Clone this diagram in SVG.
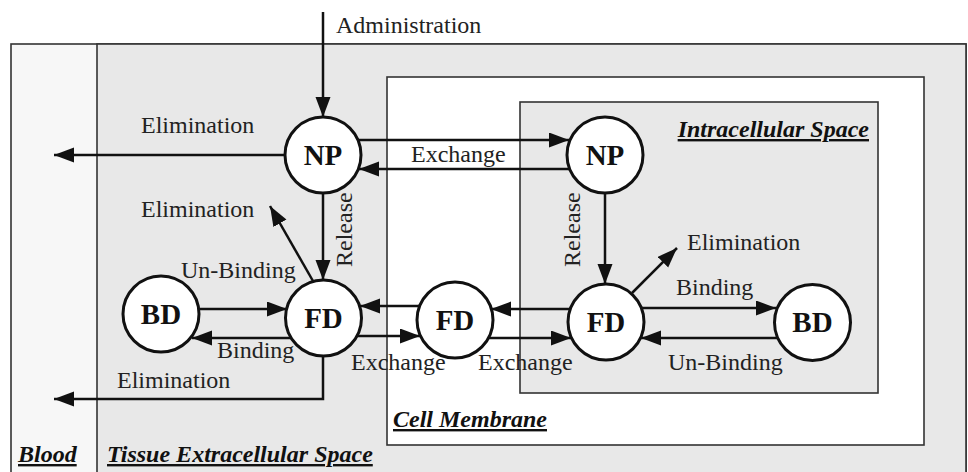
<svg xmlns="http://www.w3.org/2000/svg" width="968" height="472" viewBox="0 0 968 472">
<style>
.box{stroke:#333;stroke-width:1.6}
.node circle{fill:#fff;stroke:#111;stroke-width:3}
.node text{font-family:"Liberation Serif","Times New Roman",serif;font-weight:bold;font-size:29px;text-anchor:middle;fill:#111}
.lbl{font-family:"Liberation Serif","Times New Roman",serif;font-size:24px;fill:#222}
.reg{font-family:"Liberation Serif","Times New Roman",serif;font-size:24px;font-weight:bold;font-style:italic;text-decoration:underline;fill:#111}
#connectors line,#connectors path{stroke:#111;stroke-width:2.5;fill:none;marker-end:url(#arr)}
</style>
<defs>
<marker id="arr" markerUnits="userSpaceOnUse" markerWidth="21" markerHeight="16" refX="20" refY="7.5" orient="auto">
<path d="M0,0 L20,7.5 L0,15 z" fill="#111"/>
</marker>
</defs>
<rect width="968" height="472" fill="#fff"/>
<g id="regions">
<rect class="box" x="11" y="44" width="955" height="440" fill="#f7f7f7"/>
<rect class="box" x="97" y="44" width="869" height="440" fill="#e8e8e8"/>
<rect class="box" x="387" y="77" width="537" height="368" fill="#fff"/>
<rect class="box" x="520" y="102" width="358" height="291" fill="#e8e8e8"/>
<text class="reg" x="869" y="137" text-anchor="end">Intracellular Space</text>
<text class="reg" x="393" y="427">Cell Membrane</text>
<text class="reg" x="18" y="462">Blood</text>
<text class="reg" x="107" y="462">Tissue Extracellular Space</text>
</g>
<g id="connectors">
<line x1="323" y1="12" x2="323" y2="117"/>
<line x1="286" y1="155" x2="54" y2="155"/>
<line x1="358" y1="140" x2="569" y2="140"/>
<line x1="570" y1="169" x2="359" y2="169"/>
<line x1="323" y1="193" x2="323" y2="280"/>
<line x1="313" y1="281" x2="270" y2="206"/>
<line x1="199" y1="309" x2="287" y2="309"/>
<line x1="291" y1="338" x2="192" y2="338"/>
<path d="M323,356 V399 H54"/>
<line x1="420" y1="306" x2="360" y2="306"/>
<line x1="357" y1="336" x2="420" y2="336"/>
<line x1="570" y1="309" x2="491" y2="309"/>
<line x1="489" y1="338" x2="571" y2="338"/>
<line x1="605" y1="193" x2="605" y2="284"/>
<line x1="632" y1="293" x2="677" y2="248"/>
<line x1="642" y1="308" x2="776" y2="308"/>
<line x1="778" y1="338" x2="641" y2="338"/>
</g>
<g id="labels">
<text class="lbl" x="336" y="33">Administration</text>
<text class="lbl" x="141" y="133">Elimination</text>
<text class="lbl" x="411" y="162">Exchange</text>
<text class="lbl" x="141" y="217">Elimination</text>
<text class="lbl" transform="translate(352,267) rotate(-90)">Release</text>
<text class="lbl" transform="translate(580,267) rotate(-90)">Release</text>
<text class="lbl" x="181" y="278">Un-Binding</text>
<text class="lbl" x="217" y="358">Binding</text>
<text class="lbl" x="117" y="388">Elimination</text>
<text class="lbl" x="351" y="370">Exchange</text>
<text class="lbl" x="478" y="370">Exchange</text>
<text class="lbl" x="687" y="250">Elimination</text>
<text class="lbl" x="676" y="295">Binding</text>
<text class="lbl" x="668" y="370">Un-Binding</text>
</g>
<g id="NP1" class="node"><circle cx="323" cy="155" r="38"/><text x="323" y="165">NP</text></g>
<g id="NP2" class="node"><circle cx="605" cy="155" r="38"/><text x="605" y="165">NP</text></g>
<g id="BD1" class="node"><circle cx="161" cy="314" r="38"/><text x="161" y="324">BD</text></g>
<g id="FD1" class="node"><circle cx="323.5" cy="318" r="38"/><text x="323.5" y="328">FD</text></g>
<g id="FD2" class="node"><circle cx="455" cy="320" r="38"/><text x="455" y="330">FD</text></g>
<g id="FD3" class="node"><circle cx="606" cy="322" r="38"/><text x="606" y="332">FD</text></g>
<g id="BD2" class="node"><circle cx="812.5" cy="322.5" r="38"/><text x="812.5" y="332">BD</text></g>
</svg>
